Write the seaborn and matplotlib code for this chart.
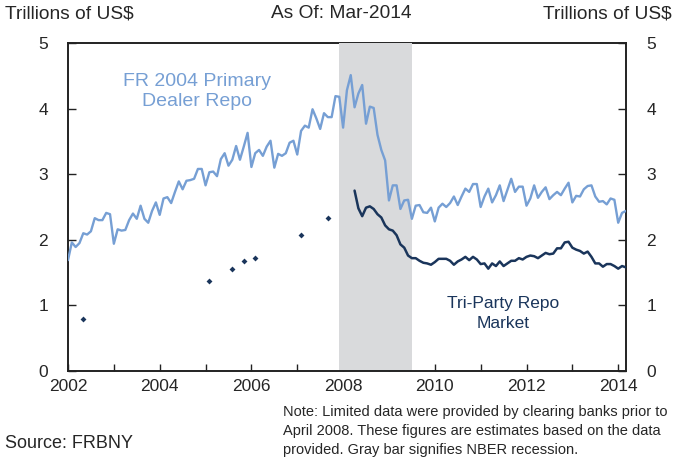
import numpy as np
import pandas as pd
import matplotlib
matplotlib.use("Agg")
import matplotlib.pyplot as plt
import seaborn as sns

# Monthly series, Jan-2002 .. Mar-2014 (trillions of US$)
months = pd.period_range("2002-01", "2014-03", freq="M")

primary_dealer_repo = [
    1.69, 1.96, 1.89, 1.95, 2.10, 2.08, 2.13, 2.33, 2.30, 2.30, 2.41, 2.39,
    1.94, 2.16, 2.14, 2.15, 2.30, 2.40, 2.32, 2.52, 2.32, 2.26, 2.44, 2.57,
    2.38, 2.63, 2.65, 2.56, 2.73, 2.89, 2.77, 2.90, 2.91, 2.93, 3.08, 3.08,
    2.83, 3.03, 3.04, 2.97, 3.23, 3.32, 3.13, 3.22, 3.43, 3.22, 3.42, 3.63,
    3.11, 3.32, 3.37, 3.28, 3.42, 3.51, 3.10, 3.31, 3.28, 3.32, 3.48, 3.51,
    3.30, 3.66, 3.74, 3.71, 3.99, 3.85, 3.69, 3.93, 3.87, 3.87, 4.19, 4.18,
    3.71, 4.28, 4.51, 4.02, 4.23, 4.36, 3.77, 4.03, 4.01, 3.60, 3.37, 3.21,
    2.60, 2.83, 2.83, 2.47, 2.60, 2.61, 2.32, 2.52, 2.53, 2.42, 2.41, 2.49,
    2.28, 2.49, 2.55, 2.50, 2.56, 2.66, 2.53, 2.66, 2.78, 2.73, 2.85, 2.85,
    2.50, 2.66, 2.78, 2.57, 2.68, 2.83, 2.59, 2.76, 2.93, 2.73, 2.81, 2.81,
    2.52, 2.63, 2.83, 2.64, 2.73, 2.80, 2.62, 2.68, 2.73, 2.68, 2.78, 2.87,
    2.57, 2.67, 2.66, 2.77, 2.82, 2.83, 2.66, 2.58, 2.59, 2.54, 2.63, 2.61,
    2.26, 2.41, 2.44,
]

# Tri-party repo, monthly from Apr-2008
triparty_start = "2008-04"
triparty_repo = [
    2.75, 2.48, 2.36, 2.49, 2.51, 2.47, 2.39, 2.34, 2.22,
    2.16, 2.14, 2.07, 1.93, 1.88, 1.76, 1.72, 1.72, 1.68, 1.65, 1.64, 1.62,
    1.66, 1.71, 1.71, 1.71, 1.68, 1.62, 1.67, 1.70, 1.74, 1.69, 1.74, 1.70,
    1.63, 1.64, 1.56, 1.64, 1.60, 1.67, 1.60, 1.64, 1.68, 1.68, 1.72, 1.70,
    1.74, 1.76, 1.75, 1.72, 1.76, 1.80, 1.78, 1.79, 1.87, 1.87, 1.96, 1.97,
    1.88, 1.85, 1.83, 1.79, 1.82, 1.74, 1.64, 1.64, 1.59, 1.63, 1.63, 1.60,
    1.56, 1.60, 1.58,
]

# Sparse pre-2008 estimates from clearing banks
estimate_months = ["2002-05", "2005-02", "2005-08", "2005-11", "2006-02", "2007-02", "2007-09"]
estimate_values = [0.80, 1.37, 1.55, 1.68, 1.73, 2.07, 2.33]

recession = ("2007-12", "2009-06")


def decimal_year(periods):
    p = pd.PeriodIndex(periods, freq="M")
    return p.year + (p.month - 1) / 12.0


light_blue = "#769FD4"
navy = "#1A355B"
bar_gray = "#D9DADC"

sns.set_theme(style="ticks")
plt.rcParams["font.family"] = ["Liberation Sans", "DejaVu Sans"]

fig = plt.figure(figsize=(6.8, 4.58), dpi=100)
ax = fig.add_axes([68 / 680, 1 - 371 / 458, (626 - 68) / 680, (371 - 43) / 458])

pd_df = pd.DataFrame({"year": decimal_year(months), "value": primary_dealer_repo})
tp_months = pd.period_range(triparty_start, periods=len(triparty_repo), freq="M")
tp_df = pd.DataFrame({"year": decimal_year(tp_months), "value": triparty_repo})
est_df = pd.DataFrame({"year": decimal_year(estimate_months), "value": estimate_values})

r0, r1 = decimal_year(list(recession))
ax.axvspan(r0, r1 + 1 / 12, color=bar_gray, lw=0, zorder=3)

sns.lineplot(data=pd_df, x="year", y="value", ax=ax, color=light_blue, lw=1.7, zorder=4)
sns.lineplot(data=tp_df, x="year", y="value", ax=ax, color=navy, lw=1.8, zorder=4)
sns.scatterplot(data=est_df, x="year", y="value", ax=ax, color=navy, marker="D",
                s=9, linewidth=0, zorder=4)

ax.set_xlim(2002, 2014.17)
ax.set_ylim(0, 5)
ax.set_xlabel("")
ax.set_ylabel("")
ax.set_xticks(range(2002, 2015, 2))
ax.set_xticks(range(2002, 2015), minor=True)
ax.set_yticks(range(0, 6))

for side in ["left", "right", "top", "bottom"]:
    ax.spines[side].set_visible(True)
    ax.spines[side].set_color("#222222")
    ax.spines[side].set_linewidth(1.4)
ax.spines["bottom"].set_zorder(5)

ax.tick_params(axis="x", which="both", direction="in", length=5, width=1,
               labelsize=12.5, pad=6, top=False, color="#222222")
ax.tick_params(axis="y", which="both", direction="in", length=6, width=1,
               labelsize=12.5, left=True, right=True,
               labelleft=True, labelright=True, color="#222222")
for lab in ax.get_yticklabels():
    lab.set_horizontalalignment("center")
ax.yaxis.set_tick_params(pad=18)

ax.text(2004.81, 4.26, "FR 2004 Primary\nDealer Repo", ha="center", va="center",
        color=light_blue, fontsize=14, linespacing=1.3, zorder=5)
ax.text(2011.5, 0.88, "Tri-Party Repo\nMarket", ha="center", va="center",
        color=navy, fontsize=12.5, linespacing=1.4, zorder=5)

fig.text(5 / 680, 1 - 14 / 458, "Trillions of US$", ha="left", va="center", fontsize=13.8)
fig.text(341 / 680, 1 - 14 / 458, "As Of: Mar-2014", ha="center", va="center", fontsize=13.8)
fig.text(672 / 680, 1 - 14 / 458, "Trillions of US$", ha="right", va="center", fontsize=13.8)

fig.text(283 / 680, 1 - 405 / 458,
         "Note: Limited data were provided by clearing banks prior to\n"
         "April 2008. These figures are estimates based on the data\n"
         "provided. Gray bar signifies NBER recession.",
         ha="left", va="top", fontsize=10.5, linespacing=1.47)
fig.text(5 / 680, 1 - 444 / 458, "Source: FRBNY", ha="left", va="center", fontsize=13)

fig.savefig("out.png", dpi=100)
